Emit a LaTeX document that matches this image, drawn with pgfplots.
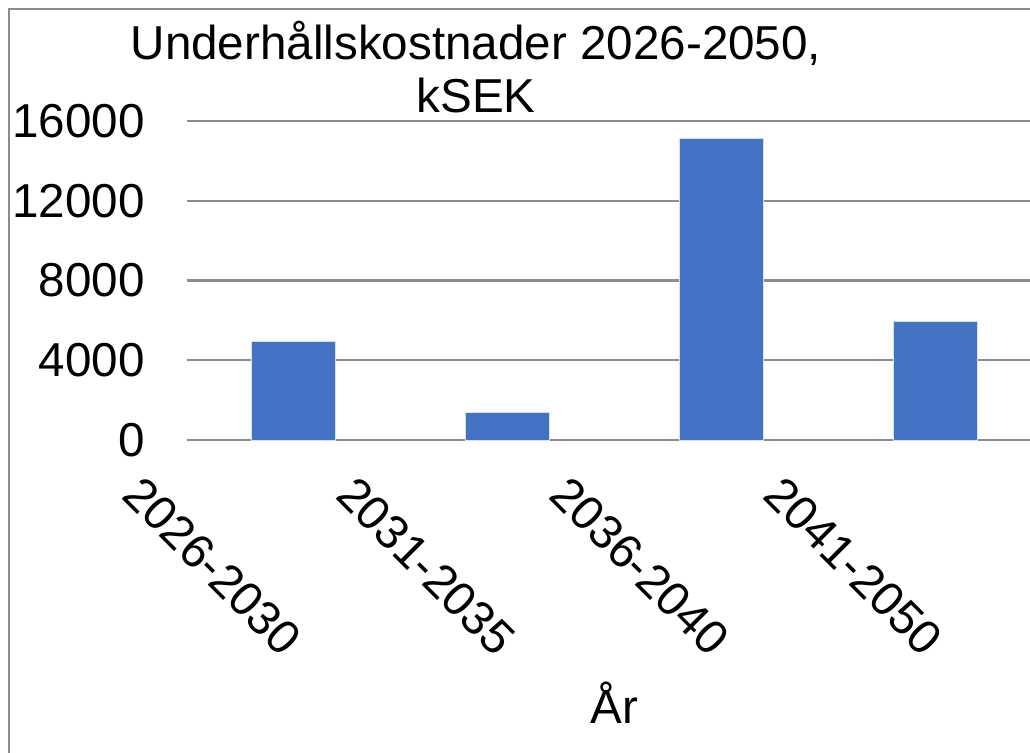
\documentclass[border=0pt]{standalone}
\usepackage{fontspec}
\setmainfont{Liberation Sans}
\usepackage{pgfplots}
\pgfplotsset{compat=1.18}
\definecolor{barblue}{HTML}{4472C4}
\definecolor{gridgray}{HTML}{8C8C8C}
\newcommand{\fs}{\fontsize{23.8pt}{26.5pt}\selectfont}
\begin{document}
\begin{tikzpicture}
\begin{axis}[
  at={(93.5pt,156pt)}, anchor=south west,
  scale only axis, width=427.5pt, height=159.5pt,
  xmin=-0.5, xmax=3.5, ymin=0, ymax=16000,
  ybar, bar width=42pt,
  axis line style={draw=none},
  major tick length=0pt,
  xtick={0,1,2,3},
  xticklabels={2026-2030,2031-2035,2036-2040,2041-2050},
  ytick={0,4000,8000,12000,16000},
  yticklabels={0,4000,8000,12000,16000},
  scaled y ticks=false,
  ymajorgrids, grid style={draw=gridgray, line width=1.1pt},
  tick label style={font=\fs, inner sep=0pt},
  yticklabel style={anchor=east, xshift=-21pt},
  xticklabel style={anchor=north west, xshift=-75pt, yshift=-16.5pt, rotate=-45},
  title={Underhållskostnader 2026-2050,\\kSEK},
  title style={font=\fs, align=center, inner sep=0pt, at={(axis description cs:0.338,1)}, anchor=north, yshift=44pt},
  xlabel={År},
  xlabel style={font=\fs, inner sep=0pt, at={(axis description cs:0.5,0)}, anchor=base, yshift=-141.5pt},
  clip=false,
]
\addplot[fill=barblue, draw={rgb,255:red,215;green,225;blue,242}, line width=0.5pt] coordinates {(0,4940) (1,1370) (2,15110) (3,5945)};
\end{axis}
\draw[gridgray, line width=1.1pt] (4.5pt,-20pt) -- (4.5pt,371.5pt) -- (540pt,371.5pt);
\pgfresetboundingbox
\useasboundingbox (0,0) rectangle (515pt,376pt);
\end{tikzpicture}
\end{document}
